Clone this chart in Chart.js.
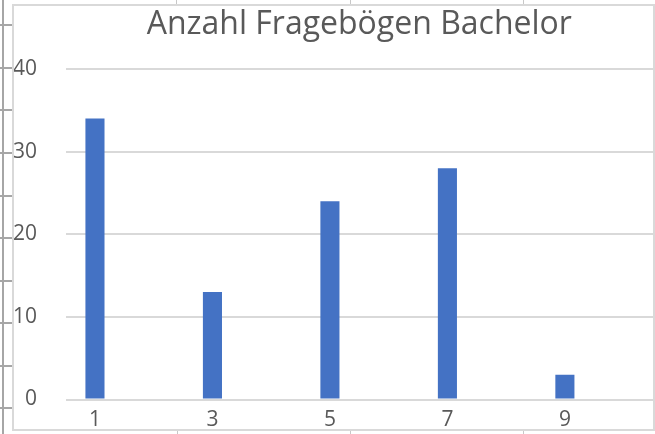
<!DOCTYPE html>
<html>
<head>
<meta charset="utf-8">
<script src="https://cdn.jsdelivr.net/npm/chart.js@4"></script>
<style>
  html, body { margin: 0; padding: 0; background: #fff; width: 655px; height: 434px; overflow: hidden; }
  .g { position: absolute; background: #a6a6a6; }
  .t { position: absolute; background: #c8c8c8; }
  #frame { position: absolute; left: 12px; top: 4px; width: 643px; height: 427px; border: 2px solid #d9d9d9; box-sizing: border-box; }
  #wrap { position: absolute; left: 14px; top: 6px; width: 639px; height: 423px; }
  canvas { display: block; }
</style>
</head>
<body>
<div class="g" style="left:2px;top:0;width:2px;height:434px"></div>
<div id="gutter"></div>
<div class="t" style="left:176px;top:0;width:1px;height:4px"></div>
<div class="t" style="left:350px;top:0;width:1px;height:4px"></div>
<div class="t" style="left:523px;top:0;width:1px;height:4px"></div>
<div class="t" style="left:177px;top:431px;width:1px;height:3px"></div>
<div class="t" style="left:350px;top:431px;width:1px;height:3px"></div>
<div class="t" style="left:523px;top:431px;width:1px;height:3px"></div>
<div id="frame"></div>
<div id="wrap"><canvas id="c" width="639" height="423"></canvas></div>
<script>
const chartTitle = 'Anzahl Fragebögen Bachelor';
const categories = ['1', '2', '3', '4', '5', '6', '7', '8', '9', '10'];
const counts = [34, 0, 13, 0, 24, 0, 28, 0, 3, 0];
const yTicks = [0, 10, 20, 30, 40];

// spreadsheet row gutter ticks (decoration)
const gutterRows = [25, 68, 110, 153, 196, 238, 281, 323, 366, 408];
const gutter = document.getElementById('gutter');
gutterRows.forEach(y => {
  const d = document.createElement('div');
  d.className = 'g';
  d.style.cssText = 'left:0;top:' + (y - 1) + 'px;width:12px;height:2px';
  gutter.appendChild(d);
});

const centerTitle = {
  id: 'centerTitle',
  afterLayout(chart) {
    if (chart.titleBlock) {
      chart.titleBlock.left = chart.chartArea.left;
      chart.titleBlock.right = chart.chartArea.right;
    }
  }
};

new Chart(document.getElementById('c'), {
  type: 'bar',
  data: {
    labels: categories,
    datasets: [{
      data: counts,
      backgroundColor: '#4472C4',
      borderWidth: 0,
      barPercentage: 0.325,
      categoryPercentage: 1
    }]
  },
  plugins: [centerTitle],
  options: {
    responsive: false,
    animation: false,
    devicePixelRatio: 1,
    layout: { padding: 0 },
    plugins: {
      legend: { display: false },
      tooltip: { enabled: false },
      title: {
        display: true,
        text: chartTitle,
        color: '#595959',
        font: { family: 'Open Sans', size: 32, weight: 'normal', lineHeight: 1.2 },
        padding: { top: 0, bottom: 24.6 }
      }
    },
    scales: {
      x: {
        grid: { display: false, drawTicks: false },
        border: { display: false },
        afterFit(s) { s.height = 29.5; s.paddingLeft = 0; s.paddingRight = 0; },
        ticks: {
          color: '#595959',
          font: { family: 'Open Sans', size: 21 },
          padding: 8,
          autoSkip: false,
          maxRotation: 0,
          callback(v, i) { return i % 2 === 0 ? categories[i] : ''; }
        }
      },
      y: {
        min: 0,
        max: 40,
        afterFit(s) { s.width = 51.6; s.paddingTop = 0; s.paddingBottom = 0; },
        afterBuildTicks(s) { s.ticks = yTicks.map(v => ({ value: v })); },
        grid: { color: '#d9d9d9', lineWidth: 2, drawTicks: false },
        border: { display: false },
        ticks: {
          color: '#595959',
          font: { family: 'Open Sans', size: 21 },
          padding: 28.6
        }
      }
    }
  }
});
</script>
</body>
</html>
